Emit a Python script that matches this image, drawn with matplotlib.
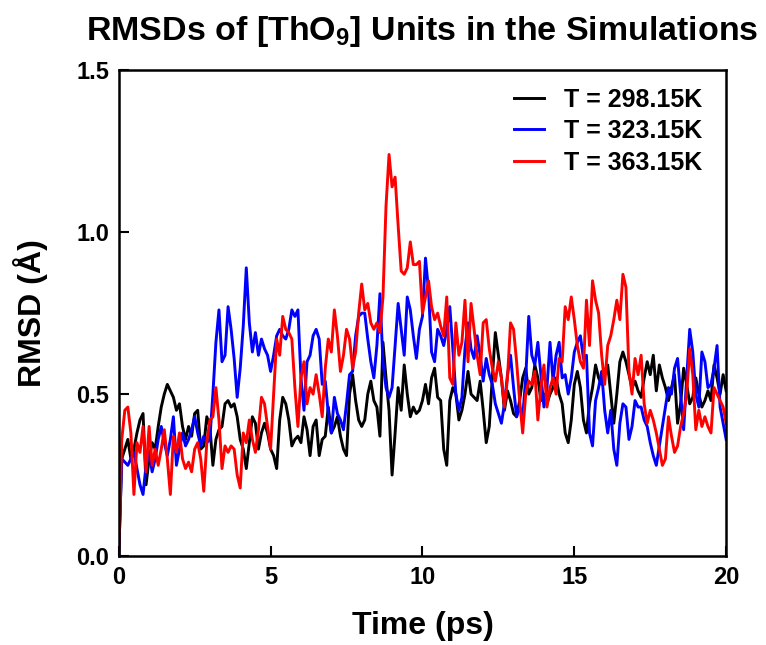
import numpy as np
import matplotlib
matplotlib.use('Agg')
import matplotlib.pyplot as plt

plt.rcParams['font.family'] = 'Liberation Sans'
plt.rcParams['font.weight'] = 'bold'
plt.rcParams['mathtext.fontset'] = 'custom'
plt.rcParams['mathtext.rm'] = 'Liberation Sans:bold'
plt.rcParams['mathtext.bf'] = 'Liberation Sans:bold'

# --- time grid (ps), one sample every 0.1 ps ---
time_ps = np.round(np.arange(0, 201) * 0.1, 1)

# --- RMSD values (Angstrom) ---
rmsd_298 = [
    0.00, 0.30, 0.33, 0.36, 0.30, 0.33, 0.38, 0.42, 0.44, 0.22,
    0.30, 0.35, 0.33, 0.40, 0.46, 0.50, 0.53, 0.51, 0.49, 0.45,
    0.47, 0.40, 0.36, 0.40, 0.37, 0.44, 0.45, 0.33, 0.34, 0.43,
    0.40, 0.28, 0.36, 0.39, 0.40, 0.47, 0.48, 0.46, 0.47, 0.43,
    0.36, 0.33, 0.27, 0.35, 0.43, 0.41, 0.33, 0.38, 0.41, 0.38,
    0.33, 0.31, 0.27, 0.42, 0.49, 0.47, 0.42, 0.34, 0.36, 0.37,
    0.35, 0.43, 0.39, 0.31, 0.40, 0.42, 0.31, 0.36, 0.37, 0.46,
    0.38, 0.40, 0.43, 0.37, 0.33, 0.31, 0.50, 0.56, 0.48, 0.42,
    0.40, 0.42, 0.50, 0.54, 0.48, 0.46, 0.37, 0.66, 0.55, 0.45,
    0.25, 0.38, 0.52, 0.45, 0.59, 0.50, 0.43, 0.46, 0.44, 0.45,
    0.48, 0.53, 0.47, 0.55, 0.58, 0.49, 0.48, 0.33, 0.28, 0.48,
    0.52, 0.50, 0.42, 0.45, 0.50, 0.57, 0.50, 0.49, 0.48, 0.54,
    0.45, 0.35, 0.40, 0.55, 0.69, 0.62, 0.55, 0.45, 0.51, 0.48,
    0.44, 0.43, 0.48, 0.55, 0.58, 0.50, 0.52, 0.59, 0.55, 0.48,
    0.50, 0.47, 0.50, 0.52, 0.55, 0.50, 0.47, 0.38, 0.35, 0.42,
    0.53, 0.57, 0.52, 0.42, 0.38, 0.47, 0.52, 0.59, 0.55, 0.53,
    0.56, 0.59, 0.50, 0.41, 0.50, 0.60, 0.63, 0.60, 0.56, 0.52,
    0.54, 0.51, 0.49, 0.55, 0.60, 0.56, 0.62, 0.51, 0.59, 0.55,
    0.52, 0.48, 0.52, 0.56, 0.41, 0.47, 0.58, 0.53, 0.47, 0.49,
    0.55, 0.50, 0.46, 0.48, 0.51, 0.48, 0.59, 0.55, 0.50, 0.56,
    0.51,
]

rmsd_323 = [
    0.00, 0.30, 0.29, 0.28, 0.30, 0.32, 0.27, 0.22, 0.19, 0.28,
    0.32, 0.26, 0.30, 0.36, 0.40, 0.35, 0.31, 0.36, 0.43, 0.28,
    0.33, 0.38, 0.34, 0.36, 0.39, 0.43, 0.38, 0.34, 0.37, 0.35,
    0.36, 0.50, 0.66, 0.76, 0.60, 0.62, 0.77, 0.70, 0.61, 0.49,
    0.58, 0.71, 0.89, 0.72, 0.63, 0.69, 0.62, 0.67, 0.64, 0.62,
    0.57, 0.62, 0.68, 0.70, 0.68, 0.67, 0.70, 0.76, 0.74, 0.76,
    0.55, 0.45, 0.60, 0.62, 0.68, 0.70, 0.67, 0.53, 0.54, 0.44,
    0.38, 0.49, 0.44, 0.42, 0.39, 0.47, 0.56, 0.57, 0.68, 0.74,
    0.75, 0.75, 0.67, 0.60, 0.55, 0.65, 0.81, 0.60, 0.52, 0.49,
    0.52, 0.65, 0.78, 0.70, 0.62, 0.80, 0.76, 0.68, 0.61, 0.70,
    0.74, 0.92, 0.82, 0.63, 0.60, 0.70, 0.68, 0.65, 0.70, 0.77,
    0.64, 0.50, 0.45, 0.49, 0.64, 0.72, 0.64, 0.61, 0.68, 0.62,
    0.54, 0.61, 0.56, 0.53, 0.47, 0.44, 0.41, 0.47, 0.56, 0.62,
    0.52, 0.43, 0.46, 0.43, 0.55, 0.74, 0.62, 0.59, 0.66, 0.56,
    0.46, 0.52, 0.66, 0.54, 0.62, 0.66, 0.55, 0.56, 0.50, 0.55,
    0.63, 0.66, 0.68, 0.61, 0.62, 0.38, 0.34, 0.48, 0.52, 0.57,
    0.45, 0.38, 0.45, 0.33, 0.28, 0.41, 0.47, 0.46, 0.36, 0.40,
    0.48, 0.46, 0.46, 0.42, 0.40, 0.35, 0.31, 0.28, 0.34, 0.40,
    0.46, 0.52, 0.50, 0.58, 0.61, 0.50, 0.39, 0.55, 0.70, 0.63,
    0.50, 0.46, 0.63, 0.60, 0.52, 0.53, 0.58, 0.65, 0.46, 0.41,
    0.36,
]

rmsd_363 = [
    0.00, 0.36, 0.45, 0.46, 0.38, 0.19, 0.35, 0.32, 0.40, 0.26,
    0.40, 0.28, 0.33, 0.28, 0.33, 0.39, 0.30, 0.19, 0.37, 0.32,
    0.38, 0.30, 0.27, 0.29, 0.26, 0.33, 0.35, 0.30, 0.20, 0.35,
    0.42, 0.43, 0.52, 0.42, 0.27, 0.34, 0.32, 0.34, 0.33, 0.25,
    0.21, 0.38, 0.35, 0.42, 0.36, 0.32, 0.39, 0.49, 0.47, 0.40,
    0.33, 0.50, 0.67, 0.62, 0.74, 0.70, 0.69, 0.67, 0.52, 0.40,
    0.55, 0.60, 0.47, 0.52, 0.50, 0.56, 0.50, 0.43, 0.58, 0.67,
    0.63, 0.76, 0.68, 0.57, 0.62, 0.70, 0.67, 0.58, 0.63, 0.75,
    0.84, 0.76, 0.78, 0.72, 0.70, 0.72, 0.69, 0.80, 1.08, 1.24,
    1.14, 1.17, 1.02, 0.88, 0.87, 0.89, 0.97, 0.90, 0.90, 0.91,
    0.75, 0.80, 0.85, 0.77, 0.73, 0.75, 0.71, 0.68, 0.80, 0.55,
    0.53, 0.72, 0.62, 0.66, 0.79, 0.60, 0.78, 0.70, 0.62, 0.56,
    0.72, 0.73, 0.64, 0.58, 0.54, 0.60, 0.55, 0.46, 0.55, 0.72,
    0.70, 0.60, 0.48, 0.38, 0.50, 0.54, 0.53, 0.57, 0.42, 0.52,
    0.59, 0.46, 0.52, 0.55, 0.50, 0.61, 0.60, 0.77, 0.73, 0.80,
    0.73, 0.65, 0.60, 0.58, 0.79, 0.65, 0.85, 0.79, 0.75, 0.62,
    0.53, 0.65, 0.68, 0.73, 0.79, 0.73, 0.87, 0.83, 0.57, 0.50,
    0.61, 0.56, 0.62, 0.47, 0.41, 0.45, 0.42, 0.38, 0.33, 0.28,
    0.30, 0.43, 0.37, 0.32, 0.34, 0.40, 0.44, 0.50, 0.64, 0.56,
    0.39, 0.45, 0.40, 0.43, 0.40, 0.38, 0.52, 0.50, 0.48, 0.46,
    0.41,
]

labels = ['T = 298.15K', 'T = 323.15K', 'T = 363.15K']
colors = ['#000000', '#0000ff', '#ff0000']

fig = plt.figure(figsize=(7.66, 6.45), dpi=100)
ax = fig.add_axes([0.155, 0.138, 0.793, 0.753])

for series, lab, col in zip([rmsd_298, rmsd_323, rmsd_363], labels, colors):
    ax.plot(time_ps, series, color=col, lw=2.1, label=lab)

ax.set_xlim(0, 20)
ax.set_ylim(0, 1.5)
ax.set_xticks([0, 5, 10, 15, 20])
ax.set_yticks([0.0, 0.5, 1.0, 1.5])
ax.set_yticklabels(['0.0', '0.5', '1.0', '1.5'])
ax.tick_params(direction='in', length=7, width=1.5, labelsize=17, pad=7)
for sp in ax.spines.values():
    sp.set_linewidth(1.8)

ax.set_xlabel('Time (ps)', fontsize=23, fontweight='bold', labelpad=16)
ax.set_ylabel('RMSD (Å)', fontsize=23, fontweight='bold', labelpad=20)
ax.set_title(r'RMSDs of [ThO$_\mathbf{9}$] Units in the Simulations',
             fontsize=24.5, fontweight='bold', pad=22)

leg = ax.legend(loc='upper right', bbox_to_anchor=(0.985, 0.995),
                frameon=False, fontsize=18,
                handlelength=1.2, handletextpad=0.8, borderaxespad=0.2,
                labelspacing=0.3)
for t in leg.get_texts():
    t.set_fontweight('bold')

fig.savefig('out.png', dpi=100)
